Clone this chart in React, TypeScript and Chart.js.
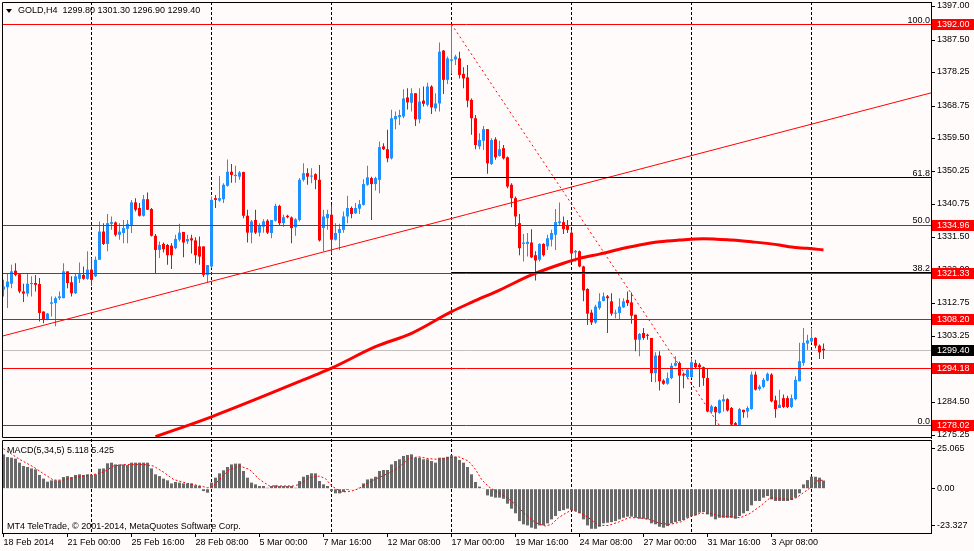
import { useEffect, useRef } from "react";
import { Chart, registerables } from "chart.js";

Chart.register(...registerables);

const FONT = "'Liberation Sans', Arial, sans-serif";
const BG = "#fffbfa";
const BULL = "#1e90ff";
const BEAR = "#ff0000";
const RED = "#ff0000";
const HIST = "#696969";

// header texts
const symbol = "GOLD,H4";
const lastOHLC = ["1299.80", "1301.30", "1296.90", "1299.40"];
const macdTitle = "MACD(5,34,5) 5.118 5.425";
const copyright = "MT4 TeleTrade, \u00a9 2001-2014, MetaQuotes Software Corp.";

// H4 candles, 18 Feb 2014 08:00 .. 7 Apr 2014 12:00
const open = [
  1316.6, 1317.3, 1318.3, 1322.0, 1321.0, 1316.1, 1315.5, 1318.2, 1318.5, 1318.2,
  1310.4, 1308.1, 1312.6, 1312.8, 1314.2, 1314.2, 1321.8, 1318.7, 1315.6, 1319.7,
  1320.8, 1319.7, 1322.3, 1320.4, 1325.1, 1333.1, 1329.6, 1335.3, 1335.7, 1332.2,
  1332.7, 1333.9, 1335.0, 1341.4, 1339.8, 1337.6, 1342.3, 1339.5, 1331.9, 1327.9,
  1329.6, 1329.3, 1329.1, 1328.4, 1330.8, 1333.0, 1330.3, 1331.2, 1330.6, 1328.9,
  1328.9, 1320.8, 1323.2, 1342.6, 1341.9, 1342.3, 1346.1, 1350.1, 1348.9, 1348.7,
  1350.0, 1337.6, 1332.8, 1336.4, 1332.8, 1334.5, 1336.2, 1332.7, 1336.2, 1340.4,
  1335.5, 1337.6, 1337.1, 1334.3, 1336.4, 1347.8, 1349.7, 1348.7, 1349.4, 1347.8,
  1334.1, 1336.9, 1337.9, 1330.8, 1332.7, 1333.6, 1337.4, 1339.8, 1338.3, 1339.6,
  1340.7, 1346.4, 1348.3, 1346.6, 1347.8, 1357.3, 1356.5, 1353.9, 1365.0, 1365.6,
  1365.8, 1371.2, 1369.7, 1372.4, 1365.0, 1370.3, 1369.1, 1374.3, 1368.1, 1369.5,
  1384.5, 1376.2, 1381.6, 1382.0, 1382.3, 1377.9, 1376.9, 1370.5, 1365.3, 1357.3,
  1358.9, 1362.2, 1352.3, 1359.3, 1354.6, 1356.8, 1354.2, 1346.4, 1342.6, 1335.5,
  1329.6, 1329.6, 1330.0, 1326.4, 1325.1, 1329.6, 1328.9, 1330.8, 1332.2, 1335.5,
  1335.8, 1335.0, 1332.8, 1327.2, 1327.5, 1323.2, 1316.8, 1310.1, 1307.3, 1311.4,
  1313.4, 1314.7, 1313.3, 1309.8, 1310.0, 1311.6, 1313.7, 1313.0, 1309.5, 1302.4,
  1304.3, 1303.8, 1302.9, 1292.9, 1297.9, 1290.8, 1289.9, 1291.5, 1295.0, 1295.8,
  1292.6, 1291.8, 1291.8, 1295.8, 1295.3, 1294.6, 1291.5, 1282.0, 1283.3, 1281.6,
  1284.9, 1285.5, 1283.0, 1278.7, 1278.2, 1282.5, 1282.0, 1282.7, 1292.5, 1288.4,
  1289.0, 1290.8, 1292.5, 1285.2, 1283.0, 1285.8, 1285.8, 1283.3, 1285.5, 1290.6,
  1295.8, 1301.3, 1301.9, 1302.9, 1300.7, 1299.8,
];
const high = [
  1319.4, 1321.3, 1323.7, 1324.1, 1321.0, 1318.3, 1321.3, 1320.4, 1320.8, 1319.9,
  1310.4, 1310.0, 1314.7, 1314.7, 1316.1, 1324.1, 1321.8, 1320.4, 1321.3, 1324.3,
  1323.2, 1327.5, 1325.6, 1326.0, 1336.0, 1335.5, 1338.1, 1337.4, 1336.0, 1335.5,
  1336.4, 1336.4, 1342.1, 1342.6, 1341.2, 1343.5, 1344.2, 1339.8, 1332.4, 1330.3,
  1330.0, 1329.6, 1329.8, 1332.2, 1335.3, 1333.0, 1332.2, 1332.2, 1331.5, 1331.7,
  1328.9, 1323.6, 1343.1, 1343.5, 1348.9, 1346.8, 1353.6, 1352.3, 1351.8, 1350.3,
  1350.1, 1339.3, 1336.4, 1339.3, 1335.5, 1336.6, 1336.6, 1336.4, 1341.0, 1340.7,
  1337.9, 1337.9, 1337.4, 1336.9, 1348.3, 1352.5, 1351.1, 1351.1, 1349.7, 1352.0,
  1339.3, 1339.3, 1340.7, 1335.5, 1335.3, 1338.8, 1343.3, 1340.2, 1341.2, 1342.1,
  1348.0, 1351.8, 1348.7, 1348.7, 1358.7, 1358.2, 1362.0, 1367.7, 1367.2, 1367.7,
  1373.5, 1373.8, 1373.8, 1372.4, 1373.8, 1374.3, 1375.4, 1374.7, 1372.4, 1386.8,
  1384.7, 1382.8, 1392.0, 1383.3, 1384.2, 1379.8, 1380.4, 1370.9, 1366.2, 1361.0,
  1363.1, 1362.2, 1359.6, 1359.9, 1358.9, 1357.7, 1354.4, 1346.8, 1343.1, 1338.1,
  1332.4, 1332.7, 1333.8, 1327.5, 1329.8, 1329.8, 1332.2, 1333.6, 1339.5, 1341.4,
  1337.4, 1336.4, 1333.6, 1327.9, 1327.7, 1323.4, 1317.0, 1310.9, 1312.3, 1315.6,
  1315.8, 1315.1, 1315.6, 1310.9, 1314.2, 1314.2, 1316.1, 1315.8, 1309.5, 1304.3,
  1305.7, 1304.1, 1302.9, 1298.8, 1299.1, 1291.2, 1293.1, 1295.8, 1297.7, 1296.2,
  1293.1, 1294.3, 1297.2, 1296.7, 1295.8, 1294.8, 1294.1, 1283.9, 1283.5, 1285.4,
  1286.8, 1285.8, 1283.3, 1279.0, 1283.0, 1282.5, 1283.5, 1293.4, 1293.4, 1289.6,
  1291.5, 1293.1, 1292.9, 1286.5, 1288.2, 1286.8, 1286.5, 1286.8, 1292.0, 1301.5,
  1305.7, 1303.8, 1305.7, 1303.1, 1301.0, 1301.3,
];
const low = [
  1314.7, 1311.4, 1317.0, 1320.4, 1315.6, 1313.1, 1314.7, 1314.7, 1316.1, 1307.6,
  1307.1, 1307.9, 1309.0, 1306.2, 1313.7, 1314.2, 1317.0, 1314.7, 1315.4, 1318.5,
  1319.4, 1319.4, 1317.7, 1320.2, 1325.1, 1329.3, 1327.5, 1333.6, 1331.7, 1330.8,
  1329.8, 1329.8, 1332.7, 1338.8, 1337.4, 1337.4, 1339.2, 1331.7, 1321.1, 1325.6,
  1327.2, 1323.7, 1322.5, 1328.1, 1330.3, 1325.8, 1329.6, 1326.9, 1324.1, 1323.7,
  1320.2, 1318.7, 1322.7, 1339.8, 1341.6, 1341.2, 1345.9, 1347.0, 1347.0, 1347.8,
  1336.9, 1330.0, 1329.8, 1332.4, 1331.7, 1332.8, 1332.4, 1331.2, 1336.0, 1334.7,
  1334.5, 1336.9, 1329.8, 1331.9, 1336.0, 1347.3, 1346.4, 1346.8, 1345.1, 1330.3,
  1327.5, 1333.6, 1326.8, 1330.6, 1327.9, 1332.8, 1335.5, 1336.9, 1338.1, 1338.1,
  1340.5, 1346.1, 1336.4, 1344.8, 1344.0, 1356.3, 1352.8, 1353.6, 1362.2, 1363.4,
  1365.3, 1367.8, 1367.2, 1363.1, 1363.9, 1368.6, 1368.6, 1366.5, 1367.2, 1367.2,
  1372.2, 1375.0, 1377.9, 1380.4, 1376.6, 1373.8, 1368.4, 1360.6, 1356.5, 1356.5,
  1356.3, 1349.5, 1352.0, 1353.5, 1354.4, 1353.6, 1345.4, 1340.0, 1334.5, 1326.4,
  1324.6, 1326.0, 1325.6, 1319.2, 1324.6, 1326.0, 1327.9, 1328.9, 1327.9, 1335.0,
  1332.4, 1332.7, 1325.1, 1324.6, 1323.0, 1313.3, 1306.6, 1306.6, 1306.9, 1310.9,
  1313.3, 1304.3, 1309.2, 1308.5, 1308.1, 1311.4, 1312.0, 1306.9, 1299.1, 1297.7,
  1302.4, 1302.4, 1290.4, 1290.3, 1288.0, 1289.6, 1289.6, 1291.2, 1294.8, 1284.4,
  1288.6, 1291.2, 1291.5, 1294.3, 1289.0, 1289.3, 1281.8, 1281.4, 1278.02, 1281.4,
  1282.0, 1282.0, 1278.1, 1278.02, 1278.1, 1280.2, 1280.2, 1282.5, 1288.0, 1288.0,
  1288.6, 1290.6, 1284.6, 1280.2, 1283.0, 1283.0, 1283.0, 1283.0, 1285.2, 1290.6,
  1295.0, 1299.5, 1301.5, 1300.0, 1296.9, 1296.9,
];
const close = [
  1317.5, 1318.9, 1321.8, 1320.8, 1316.1, 1315.5, 1318.3, 1318.5, 1318.0, 1310.0,
  1308.1, 1309.8, 1313.0, 1314.2, 1314.7, 1321.8, 1318.5, 1315.6, 1320.4, 1321.0,
  1319.7, 1322.3, 1319.4, 1325.1, 1333.1, 1329.6, 1335.5, 1335.8, 1332.2, 1333.1,
  1334.1, 1335.3, 1341.4, 1339.3, 1337.6, 1342.3, 1339.3, 1331.9, 1327.9, 1329.3,
  1328.1, 1326.4, 1326.4, 1331.0, 1332.8, 1330.0, 1331.0, 1330.6, 1326.4, 1326.0,
  1320.8, 1323.6, 1342.1, 1342.1, 1342.6, 1346.4, 1350.1, 1349.2, 1349.2, 1349.9,
  1337.6, 1332.8, 1336.0, 1332.8, 1334.7, 1336.0, 1332.8, 1336.4, 1340.4, 1335.5,
  1337.2, 1337.2, 1334.1, 1336.6, 1347.8, 1349.7, 1348.7, 1349.0, 1347.8, 1330.6,
  1337.4, 1338.1, 1330.8, 1332.7, 1333.8, 1337.4, 1339.8, 1338.1, 1339.8, 1340.9,
  1346.6, 1348.5, 1346.6, 1348.3, 1357.1, 1356.5, 1353.9, 1365.3, 1365.9, 1366.2,
  1370.9, 1369.8, 1372.4, 1365.0, 1370.0, 1369.4, 1374.3, 1368.4, 1369.5, 1384.2,
  1376.2, 1382.3, 1382.0, 1382.8, 1377.6, 1376.6, 1370.3, 1365.3, 1357.7, 1359.1,
  1362.2, 1352.5, 1359.1, 1354.2, 1356.5, 1353.9, 1345.9, 1342.6, 1337.4, 1328.4,
  1330.0, 1330.2, 1325.8, 1324.9, 1329.6, 1326.4, 1331.2, 1332.7, 1335.8, 1336.0,
  1333.8, 1333.6, 1326.9, 1327.6, 1323.2, 1316.4, 1309.8, 1307.3, 1311.8, 1313.3,
  1314.7, 1314.2, 1309.8, 1310.0, 1311.8, 1313.3, 1312.8, 1309.2, 1302.4, 1304.0,
  1302.9, 1303.5, 1292.9, 1297.9, 1290.6, 1289.9, 1291.5, 1295.0, 1295.8, 1292.2,
  1292.2, 1293.9, 1296.0, 1294.6, 1294.6, 1291.5, 1282.0, 1283.5, 1281.8, 1285.2,
  1285.5, 1282.3, 1278.3, 1278.2, 1282.7, 1281.8, 1283.0, 1292.5, 1288.2, 1289.1,
  1291.0, 1292.7, 1284.9, 1282.7, 1283.9, 1283.3, 1283.3, 1285.8, 1291.0, 1296.3,
  1301.5, 1302.2, 1302.9, 1300.7, 1298.8, 1299.4,
];

// 200-period moving average, read at bar indices
const maIdx = [38, 52, 78, 82, 93, 102, 112, 117, 124, 132, 140, 144, 149, 155, 159, 164, 169, 175, 182, 187, 194, 197, 201, 205];
const maVal = [1274.85, 1280.5, 1292.4, 1294.3, 1300.4, 1304.2, 1310.35, 1313.0, 1316.5, 1320.8, 1324.1, 1325.5, 1326.7, 1328.35, 1329.3, 1330.2, 1330.7, 1331.1, 1330.7, 1330.2, 1329.3, 1328.7, 1328.35, 1327.9];

// drawn objects
const trendIdx = [-0.375, 231.875];
const trendPrice = [1303.4, 1372.5];
const fibIdx = [112, 179];
const fibPrice = [1392.0, 1278.02];
const fibRatios = [100.0, 61.8, 50.0, 38.2, 0.0];
const hLevels = [1392.0, 1334.96, 1321.33, 1308.2, 1294.18, 1278.02];
const bidPrice = 1299.4;

// axes
const X_MIN = -0.375;
const X_MAX = 231.875;
const PRICE_MIN = 1274.48;
const PRICE_MAX = 1398.31;
const priceTicks = [1397, 1387.5, 1378.25, 1368.75, 1359.5, 1350.25, 1340.75, 1331.5, 1322, 1312.75, 1303.25, 1294, 1284.5, 1275.25];
const gridIdx = [22, 52, 82, 112, 142, 172, 202];
const timeIdx = [0, 16, 32, 48, 64, 80, 96, 112, 128, 144, 160, 176, 192];
const timeLabels = [
  "18 Feb 2014", "21 Feb 00:00", "25 Feb 16:00", "28 Feb 08:00", "5 Mar 00:00",
  "7 Mar 16:00", "12 Mar 08:00", "17 Mar 00:00", "19 Mar 16:00", "24 Mar 08:00",
  "27 Mar 00:00", "31 Mar 16:00", "3 Apr 08:00",
];

// MACD(5,34,5)
const macd = [
  21.5, 19.8, 19.4, 18.8, 16.3, 14.2, 13.6, 12.7, 12.1, 8.6,
  6.3, 4.4, 5.2, 5.2, 5.2, 7.3, 7.9, 7.3, 8.6, 9.0,
  8.6, 9.0, 8.6, 9.0, 12.5, 12.7, 15.9, 16.3, 15.2, 15.2,
  15.2, 14.8, 16.3, 16.3, 16.3, 16.3, 16.3, 12.7, 9.0, 7.9,
  6.3, 5.2, 3.3, 4.2, 3.8, 3.3, 3.3, 3.3, 2.1, 1.7,
  -1.5, -2.5, 3.8, 6.9, 9.6, 11.5, 13.6, 15.2, 15.7, 15.7,
  11.1, 6.9, 3.8, 2.7, 1.7, 1.7, 0.6, 1.7, 2.1, 1.7,
  1.7, 1.7, 1.7, 0.6, 4.8, 7.5, 8.6, 9.6, 9.6, 4.8,
  2.7, 1.7, -1.5, -2.9, -2.9, -2.1, -0.8, -0.4, -0.4, 0.6,
  3.3, 5.8, 6.3, 7.5, 11.1, 11.7, 11.7, 15.2, 17.3, 18.4,
  20.5, 21.1, 21.5, 19.4, 19.4, 18.4, 18.4, 17.3, 16.3, 19.4,
  19.4, 20.0, 20.9, 20.0, 18.0, 16.3, 13.6, 9.0, 4.2, 1.3,
  0.2, -4.2, -5.0, -5.6, -5.6, -6.3, -9.4, -12.5, -15.4, -20.3,
  -22.3, -23.0, -24.4, -25.1, -23.0, -23.0, -21.7, -19.2, -17.1, -14.0,
  -13.4, -12.5, -13.4, -14.0, -15.4, -19.2, -23.0, -25.1, -25.1, -23.8,
  -21.7, -21.3, -20.9, -20.3, -19.2, -18.2, -17.5, -17.5, -18.2, -18.8,
  -18.8, -19.2, -21.7, -22.3, -23.8, -24.4, -23.4, -21.7, -20.9, -20.3,
  -19.6, -18.2, -17.1, -16.7, -15.0, -14.6, -16.1, -17.5, -19.2, -18.2,
  -18.2, -18.2, -18.2, -18.8, -17.1, -15.4, -14.0, -10.4, -7.7, -7.7,
  -5.6, -4.6, -6.7, -7.7, -7.7, -7.7, -7.7, -7.1, -5.6, -2.9,
  2.7, 5.4, 7.5, 7.5, 6.9, 5.118,
];
const sigIdx = [
  0, 4, 7.5, 10, 12.5, 15, 17.5, 20, 22.5, 25, 27.5, 30, 32.5, 35, 37.5, 40, 42.5, 46, 48.5, 51,
  52.5, 54, 56.5, 59, 61.5, 64, 66.5, 69, 72.5, 74, 76.5, 79, 80.5, 82, 84.5, 87, 88.75, 91.25, 93.75, 96.25,
  98.75, 101.25, 103.75, 106.25, 108.75, 111.25, 113.75, 116.25, 118, 119.5, 121.25, 123, 125.5, 128, 130.5, 133, 135.5, 137, 138.75, 140.5,
  142, 143.75, 146.25, 148.75, 151.25, 153.75, 156.25, 158.75, 161.5, 164.2, 166.7, 169.2, 171.7, 174.2, 176.7, 179.2, 181.7, 184.2, 186.7, 189.2,
  191.7, 194.2, 196.7, 198.3, 200, 201.7, 203.3, 205,
];
const sigVal = [
  25.0, 18.4, 13.6, 9.4, 5.4, 5.4, 6.9, 7.9, 8.8, 10.4, 14.2, 15.0, 15.2, 15.2, 14.2, 10.4, 5.8, 3.3, 2.1, 0.6,
  1.7, 5.8, 12.1, 14.2, 12.1, 5.8, 1.7, 1.7, 1.7, 2.7, 6.9, 7.9, 6.3, 1.8, -2.1, -1.5, 0, 3.8, 6.9, 9.6,
  13.2, 18.8, 20.0, 18.8, 18.4, 19.4, 20.0, 17.3, 12.1, 5.8, 1.3, -1.5, -5.0, -9.8, -16.1, -21.3, -23.4, -22.3, -18.2, -15.4,
  -13.4, -14.6, -18.2, -23.0, -23.0, -20.9, -18.2, -18.2, -19.3, -21.7, -22.3, -20.9, -17.5, -15.4, -15.4, -17.1, -17.5, -18.2, -15.4, -10.9,
  -5.6, -6.3, -6.7, -5.6, -2.5, 0.6, 4.8, 5.425,
];
const MACD_MIN = -27.74;
const MACD_MAX = 30.49;
const macdTicks = [25.065, 0, -23.327];
const macdTickLabels = ["25.065", "0.00", "-23.327"];

const idx = open.map((_, i) => i);
const row = (v: number) => Math.floor(v) + 0.5;
const candleColor = (c: any) => (close[c.dataIndex] >= open[c.dataIndex] ? BULL : BEAR);
const tickFont = { family: FONT, size: 9 };

function drawGrid(chart: any, fromTop: number) {
  const { ctx, chartArea: a, scales } = chart;
  ctx.save();
  ctx.strokeStyle = "#000";
  ctx.lineWidth = 1;
  ctx.setLineDash([3, 2]);
  gridIdx.forEach((g) => {
    const px = row(scales.x.getPixelForValue(g));
    ctx.beginPath();
    ctx.moveTo(px, fromTop);
    ctx.lineTo(px, a.bottom);
    ctx.stroke();
  });
  ctx.restore();
}

function drawFrame(chart: any, bottomY: number) {
  const { ctx, chartArea: a } = chart;
  ctx.save();
  ctx.strokeStyle = "#000";
  ctx.lineWidth = 1;
  ctx.beginPath();
  ctx.moveTo(a.left + 0.5, a.top + 0.5);
  ctx.lineTo(a.right + 0.5, a.top + 0.5);
  ctx.lineTo(a.right + 0.5, bottomY);
  ctx.lineTo(a.left + 0.5, bottomY);
  ctx.closePath();
  ctx.stroke();
  ctx.restore();
}

const priceDecor = {
  id: "priceDecor",
  beforeDatasetsDraw(chart: any) {
    const { ctx, chartArea: a, scales } = chart;
    drawGrid(chart, a.top);
    ctx.save();
    ctx.strokeStyle = "#c0c0c0";
    ctx.lineWidth = 1;
    const by = row(scales.y.getPixelForValue(bidPrice));
    ctx.beginPath();
    ctx.moveTo(a.left, by);
    ctx.lineTo(a.right, by);
    ctx.stroke();
    ctx.restore();
  },
  afterDatasetsDraw(chart: any) {
    const { ctx, chartArea: a, scales } = chart;
    const fx = scales.x.getPixelForValue(fibIdx[0]);
    ctx.save();
    ctx.lineWidth = 1;
    ctx.font = `9px ${FONT}`;
    ctx.textAlign = "right";
    ctx.textBaseline = "alphabetic";
    fibRatios.forEach((r) => {
      const v = fibPrice[1] + ((fibPrice[0] - fibPrice[1]) * r) / 100;
      const py = row(scales.y.getPixelForValue(v));
      // a level that sits on a red horizontal line is hidden by it
      if (!hLevels.some((h) => Math.abs(h - v) < 0.1)) {
        ctx.strokeStyle = "#000";
        ctx.beginPath();
        ctx.moveTo(fx, py);
        ctx.lineTo(a.right, py);
        ctx.stroke();
      }
      ctx.fillStyle = "#000";
      ctx.fillText(r.toFixed(1), a.right - 1, py - 2);
    });
    ctx.strokeStyle = RED;
    hLevels.forEach((v) => {
      const py = row(scales.y.getPixelForValue(v));
      ctx.beginPath();
      ctx.moveTo(a.left, py);
      ctx.lineTo(a.right, py);
      ctx.stroke();
    });
    ctx.restore();
  },
  afterDraw(chart: any) {
    const { ctx, chartArea: a, scales } = chart;
    drawFrame(chart, a.bottom - 0.5);
    ctx.save();
    ctx.font = `9px ${FONT}`;
    ctx.textAlign = "left";
    ctx.textBaseline = "middle";
    const box = (v: number, fill: string) => {
      const py = Math.floor(scales.y.getPixelForValue(v));
      ctx.fillStyle = fill;
      ctx.fillRect(a.right + 1, py - 5, chart.width - a.right - 1, 11);
      ctx.fillStyle = "#fff";
      ctx.fillText(v.toFixed(2), a.right + 6, py + 1);
    };
    hLevels.forEach((v) => box(v, RED));
    box(bidPrice, "#000");
    ctx.restore();
  },
};

const macdDecor = {
  id: "macdDecor",
  beforeDatasetsDraw(chart: any) {
    drawGrid(chart, 0);
  },
  afterDraw(chart: any) {
    drawFrame(chart, chart.chartArea.bottom + 0.5);
  },
};

export default function App() {
  const priceRef = useRef<HTMLCanvasElement | null>(null);
  const macdRef = useRef<HTMLCanvasElement | null>(null);

  useEffect(() => {
    if (!priceRef.current || !macdRef.current) return;

    const priceChart = new Chart(priceRef.current, {
      type: "bar",
      data: {
        datasets: [
          {
            type: "line",
            data: trendIdx.map((x, k) => ({ x, y: trendPrice[k] })),
            borderColor: RED,
            borderWidth: 1,
            pointRadius: 0,
            order: 0,
          },
          {
            type: "line",
            data: fibIdx.map((x, k) => ({ x, y: fibPrice[k] })),
            borderColor: RED,
            borderWidth: 1,
            borderDash: [2, 3],
            pointRadius: 0,
            order: 0,
          },
          {
            type: "line",
            data: maIdx.map((x, k) => ({ x, y: maVal[k] })),
            borderColor: RED,
            borderWidth: 3,
            pointRadius: 0,
            cubicInterpolationMode: "monotone",
            order: 1,
          },
          {
            data: idx.map((i) => ({ x: i, y: [open[i], close[i]] })),
            backgroundColor: candleColor,
            barThickness: 3,
            maxBarThickness: 3,
            barPercentage: 1,
            categoryPercentage: 1,
            minBarLength: 1,
            grouped: false,
            borderWidth: 0,
            inflateAmount: 0,
            order: 2,
          },
          {
            data: idx.map((i) => ({ x: i, y: [low[i], high[i]] })),
            backgroundColor: candleColor,
            barThickness: 1,
            maxBarThickness: 1,
            barPercentage: 1,
            categoryPercentage: 1,
            grouped: false,
            borderWidth: 0,
            inflateAmount: 0,
            order: 3,
          },
        ] as any,
      },
      options: {
        responsive: true,
        maintainAspectRatio: false,
        animation: false,
        events: [],
        layout: { padding: { left: 2, top: 2, right: 0, bottom: 1 } },
        plugins: { legend: { display: false }, tooltip: { enabled: false } },
        scales: {
          x: {
            type: "linear",
            min: X_MIN,
            max: X_MAX,
            offset: false,
            display: false,
          },
          y: {
            type: "linear",
            position: "right",
            min: PRICE_MIN,
            max: PRICE_MAX,
            afterBuildTicks: (s: any) => {
              s.ticks = priceTicks.map((v) => ({ value: v }));
            },
            afterFit: (s: any) => {
              s.width = 43;
              s.paddingTop = 0;
              s.paddingBottom = 0;
            },
            ticks: {
              autoSkip: false,
              color: "#000",
              font: tickFont,
              padding: 2,
              labelOffset: -1,
              callback: (v: any) => Number(v).toFixed(2),
            },
            grid: { drawOnChartArea: false, drawTicks: true, tickLength: 4, color: "#000" },
            border: { display: true, color: "#000" },
          },
        } as any,
      },
      plugins: [priceDecor],
    });

    const macdChart = new Chart(macdRef.current, {
      type: "bar",
      data: {
        datasets: [
          {
            type: "line",
            data: sigIdx.map((x, k) => ({ x, y: sigVal[k] })),
            borderColor: RED,
            borderWidth: 1,
            borderDash: [2, 2],
            pointRadius: 0,
            order: 0,
          },
          {
            data: macd.map((v, i) => ({ x: i, y: v })),
            backgroundColor: HIST,
            barThickness: 3,
            maxBarThickness: 3,
            barPercentage: 1,
            categoryPercentage: 1,
            grouped: false,
            borderWidth: 0,
            inflateAmount: 0,
            order: 1,
          },
        ] as any,
      },
      options: {
        responsive: true,
        maintainAspectRatio: false,
        animation: false,
        events: [],
        layout: { padding: { left: 2, top: 1, right: 0, bottom: 0 } },
        plugins: { legend: { display: false }, tooltip: { enabled: false } },
        scales: {
          x: {
            type: "linear",
            min: X_MIN,
            max: X_MAX,
            offset: false,
            position: "bottom",
            afterBuildTicks: (s: any) => {
              s.ticks = timeIdx.map((v) => ({ value: v }));
            },
            afterFit: (s: any) => {
              s.height = 18;
              s.paddingLeft = 0;
              s.paddingRight = 0;
            },
            ticks: {
              autoSkip: false,
              maxRotation: 0,
              minRotation: 0,
              align: "start",
              padding: 0,
              color: "#000",
              font: tickFont,
              callback: (v: any) => timeLabels[timeIdx.indexOf(Number(v))] ?? "",
            },
            grid: { drawOnChartArea: false, drawTicks: true, tickLength: 4, color: "#000", offset: false },
            border: { display: true, color: "#000" },
          },
          y: {
            type: "linear",
            position: "right",
            min: MACD_MIN,
            max: MACD_MAX,
            afterBuildTicks: (s: any) => {
              s.ticks = macdTicks.map((v) => ({ value: v }));
            },
            afterFit: (s: any) => {
              s.width = 43;
              s.paddingTop = 0;
              s.paddingBottom = 0;
            },
            ticks: {
              autoSkip: false,
              color: "#000",
              font: tickFont,
              padding: 2,
              callback: (v: any) => macdTickLabels[macdTicks.indexOf(Number(v))] ?? "",
            },
            grid: { drawOnChartArea: false, drawTicks: true, tickLength: 4, color: "#000" },
            border: { display: true, color: "#000" },
          },
        } as any,
      },
      plugins: [macdDecor],
    });

    return () => {
      priceChart.destroy();
      macdChart.destroy();
    };
  }, []);

  const textStyle = {
    position: "absolute" as const,
    fontFamily: FONT,
    fontSize: 9,
    lineHeight: "10px",
    color: "#000",
    whiteSpace: "pre" as const,
    zIndex: 2,
  };

  return (
    <div
      style={{
        position: "fixed",
        left: 0,
        top: 0,
        width: 974,
        height: 551,
        background: BG,
        overflow: "hidden",
      }}
    >
      <div style={{ position: "absolute", left: 0, top: 0, width: 974, height: 439 }}>
        <canvas ref={priceRef} />
      </div>
      <div style={{ position: "absolute", left: 0, top: 439, width: 974, height: 112 }}>
        <canvas ref={macdRef} />
      </div>
      <div
        style={{
          position: "absolute",
          left: 6,
          top: 9,
          width: 0,
          height: 0,
          borderLeft: "3px solid transparent",
          borderRight: "3px solid transparent",
          borderTop: "4px solid #000",
          zIndex: 2,
        }}
      />
      <div style={{ ...textStyle, left: 18, top: 5 }}>
        {symbol + "  " + lastOHLC.join(" ")}
      </div>
      <div style={{ ...textStyle, left: 7, top: 445 }}>{macdTitle}</div>
      <div style={{ ...textStyle, left: 7, top: 521 }}>{copyright}</div>
    </div>
  );
}
